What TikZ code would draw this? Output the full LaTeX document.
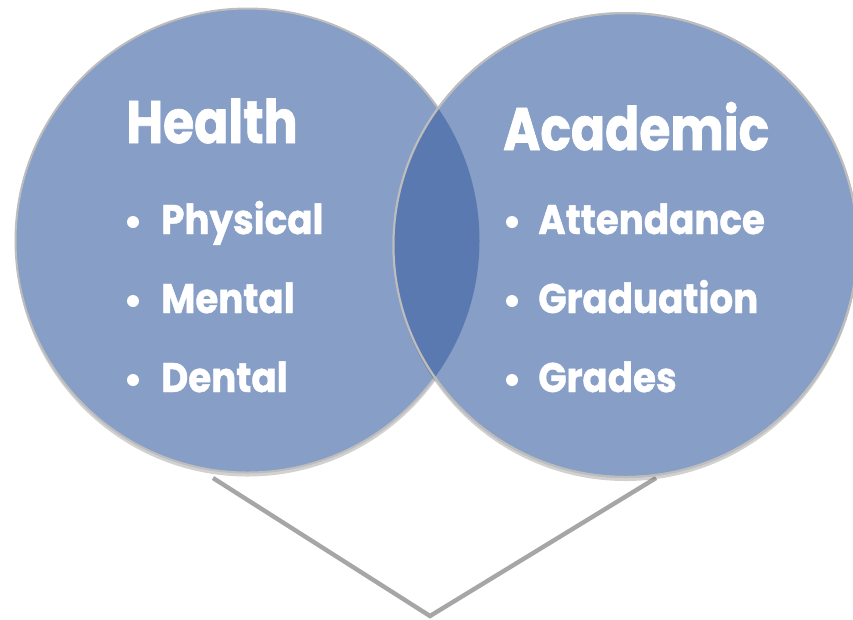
\documentclass[tikz,border=0pt]{standalone}
\usepackage{fontspec}
\setmainfont{Poppins}[BoldFont=* Bold]
\usetikzlibrary{shadows,backgrounds}
\definecolor{disc}{HTML}{879FC7}
\definecolor{lens}{HTML}{5A79B1}
\definecolor{rim}{HTML}{BDBDBD}
\definecolor{link}{HTML}{A6A6A6}
\tikzset{
  circ/.style={circle, minimum size=348pt, inner sep=0pt, fill=disc, draw=rim, line width=1.5pt,
    drop shadow={shadow xshift=0pt, shadow yshift=-3pt, opacity=0.3, fill=black!60}},
  title/.style={anchor=base west, text=white, inner sep=0pt,
    font=\bfseries\fontsize{45}{50}\selectfont\addfontfeature{FakeStretch=0.84,FakeBold=1.2}},
  item/.style={anchor=base west, text=white, inner sep=0pt,
    font=\bfseries\fontsize{31}{36}\selectfont\addfontfeature{FakeStretch=0.9,FakeBold=1}},
  dot/.style={circle, fill=white, minimum size=9pt, inner sep=0pt},
  connector/.style={draw=link, line width=3.3pt}
}
\begin{document}
\begin{tikzpicture}[x=0.75pt, y=-0.75pt]
  \useasboundingbox (0,0) rectangle (853,619);
  % bracket below the two sets
  \coordinate (la) at (213,478);
  \coordinate (tip) at (430,616);
  \coordinate (ra) at (656,478);
  \draw[connector] (la) -- (tip) -- (ra);
  % the two sets
  \node[circ] (health) at (247.5,240.5) {};
  \node[circ] (acad) at (625.5,245) {};
  % overlap
  \begin{scope}
    \clip (247.5,240.5) circle (232);
    \fill[lens] (625.5,245) circle (232);
  \end{scope}
  \draw[rim, line width=1.5pt] (625.5,245) circle (232);
  % labels
  \node[title] (th) at (126,143) {Health};
  \node[title] (ta) at (503,150) {Academic};
  \node[dot] (d1) at (133,222) {};
  \node[dot] (d2) at (133,301) {};
  \node[dot] (d3) at (133,380) {};
  \node[item] (i1) at (161,234) {Physical};
  \node[item] (i2) at (161,313) {Mental};
  \node[item] (i3) at (161,392) {Dental};
  \node[dot] (e1) at (512,222) {};
  \node[dot] (e2) at (512,301) {};
  \node[dot] (e3) at (512,380) {};
  \node[item] (j1) at (538,234) {Attendance};
  \node[item] (j2) at (538,313) {Graduation};
  \node[item] (j3) at (538,392) {Grades};
\end{tikzpicture}
\end{document}
